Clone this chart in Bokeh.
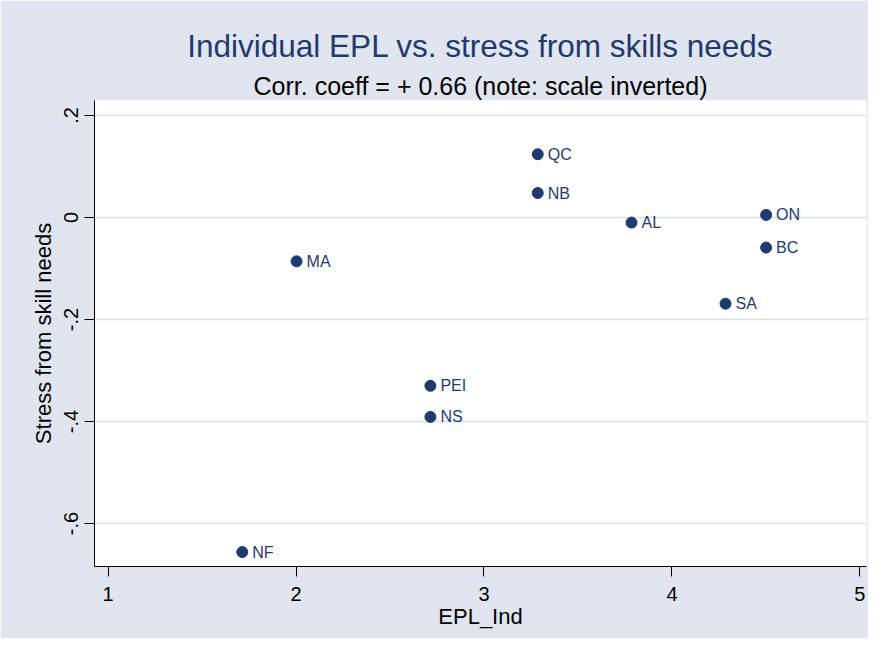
from bokeh.plotting import figure
from bokeh.models import ColumnDataSource, Title, FixedTicker, LabelSet, Range1d
from bokeh.core.properties import value
from bokeh.embed import file_html
from bokeh.resources import INLINE

# ---- data ----
provinces = ["QC", "NB", "AL", "ON", "BC", "SA", "MA", "PEI", "NS", "NF"]
epl_ind = [3.286, 3.286, 3.785, 4.501, 4.501, 4.285, 2.003, 2.715, 2.715, 1.714]
stress = [0.124, 0.048, -0.010, 0.005, -0.059, -0.169, -0.086, -0.330, -0.391, -0.656]

x_ticks = [1, 2, 3, 4, 5]
y_ticks = [-0.6, -0.4, -0.2, 0.0, 0.2]
y_tick_labels = ["-.6", "-.4", "-.2", "0", ".2"]

title_text = "Individual EPL vs. stress from skills needs"
subtitle_text = "Corr. coeff = + 0.66 (note: scale inverted)"
x_label = "EPL_Ind"
y_label = "Stress from skill needs"

# ---- style ----
NAVY = "#1f3a6e"
BG = "#e0e5ef"
GRID = "#dae0ec"
FONT = "Liberation Sans"

src = ColumnDataSource(dict(x=epl_ind, y=stress, name=provinces))

p = figure(width=868, height=638, output_backend="svg", toolbar_location=None,
           x_range=Range1d(0.928, 5.035), y_range=Range1d(-0.6844, 0.2294),
           min_border_left=94, min_border_right=2, min_border_top=100, min_border_bottom=72)

p.background_fill_color = "white"
p.border_fill_color = BG
p.outline_line_color = None

p.scatter("x", "y", source=src, size=11, color=NAVY, line_color=NAVY)
labels = LabelSet(x="x", y="y", text="name", source=src, x_offset=10, y_offset=0,
                  text_baseline="middle", text_align="left", text_color=NAVY,
                  text_font=value(FONT), text_font_size="16px")
p.add_layout(labels)

# titles (subtitle added first so it sits nearer the plot)
p.add_layout(Title(text=subtitle_text, align="center", text_font=FONT,
                   text_font_size="25px", text_color="black", text_font_style="normal",
                   standoff=2, offset=5), "above")
p.add_layout(Title(text=title_text, align="center", text_font=FONT,
                   text_font_size="31.5px", text_color=NAVY, text_font_style="normal",
                   standoff=10, offset=5), "above")

# axes
for ax in (p.xaxis[0], p.yaxis[0]):
    ax.axis_line_color = "black"
    ax.axis_line_width = 1
    ax.major_tick_line_color = "black"
    ax.major_tick_out = 10
    ax.major_tick_in = 0
    ax.minor_tick_line_color = None
    ax.major_label_text_font = FONT
    ax.major_label_text_color = "black"
    ax.axis_label_text_font = FONT
    ax.axis_label_text_font_style = "normal"
    ax.axis_label_text_color = "black"

p.xaxis.ticker = FixedTicker(ticks=x_ticks)
p.xaxis.major_label_text_font_size = "20px"
p.xaxis.major_label_standoff = 10
p.xaxis.axis_label = x_label
p.xaxis.axis_label_text_font_size = "22px"
p.xaxis.axis_label_standoff = 0

p.yaxis.ticker = FixedTicker(ticks=y_ticks)
p.yaxis.major_label_overrides = {t: l for t, l in zip(y_ticks, y_tick_labels)}
p.yaxis.major_label_orientation = "vertical"
p.yaxis.major_label_text_font_size = "20px"
p.yaxis.major_label_standoff = 6
p.yaxis.axis_label = y_label
p.yaxis.axis_label_text_font_size = "22px"
p.yaxis.axis_label_standoff = 6

p.xgrid.grid_line_color = None
p.ygrid.grid_line_color = GRID
p.ygrid.grid_line_width = 1.5

open("out.html", "w").write(file_html(p, INLINE))
